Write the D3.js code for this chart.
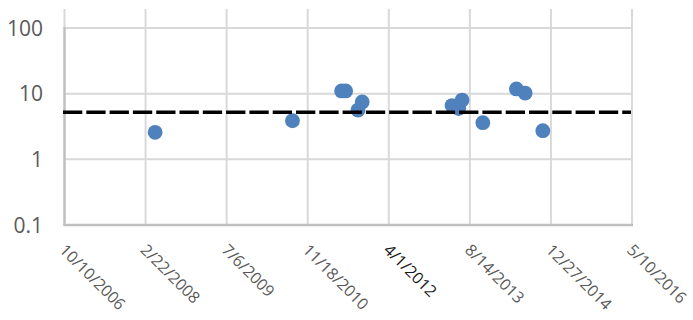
<!DOCTYPE html>
<html>
<head>
<meta charset="utf-8">
<script src="https://cdn.jsdelivr.net/npm/d3@7"></script>
<style>
  html, body { margin: 0; padding: 0; background: #fff; }
  svg { display: block; font-family: "Open Sans", sans-serif; }
</style>
</head>
<body>
<svg id="chart" width="693" height="320"></svg>
<script>
// Sample dates and measured values (log scale)
const sampleDates = [
  "2008-04-21", "2010-08-16", "2011-06-15", "2011-07-10", "2011-09-24",
  "2011-10-20", "2013-04-26", "2013-06-06", "2013-06-27", "2013-11-02",
  "2014-05-28", "2014-07-21", "2014-11-07"
];
const sampleValues = [2.58, 3.87, 11.0, 11.0, 5.63, 7.46, 6.59, 5.94, 8.0, 3.61, 11.8, 10.2, 2.73];

// Reference threshold drawn as a dashed line
const thresholdValue = 5.2;

// Axis ticks
const xTickLabels = ["10/10/2006", "2/22/2008", "7/6/2009", "11/18/2010", "4/1/2012", "8/14/2013", "12/27/2014", "5/10/2016"];
const yTickValues = [0.1, 1, 10, 100];
const yTickLabels = ["0.1", "1", "10", "100"];

const parseISO = d3.timeParse("%Y-%m-%d");
const parseUS = d3.timeParse("%m/%d/%Y");
const xTicks = xTickLabels.map(parseUS);
const points = sampleDates.map((d, i) => ({ date: parseISO(d), value: sampleValues[i] }));

const svg = d3.select("#chart");
const plotLeft = 64.5, plotRight = 632, plotTop = 28, plotBottom = 225, gridTop = 9;

const x = d3.scaleTime().domain([xTicks[0], xTicks[xTicks.length - 1]]).range([plotLeft, plotRight]);
const y = d3.scaleLog().domain([0.1, 100]).range([plotBottom, plotTop]);

// Horizontal gridlines
svg.append("g").selectAll("line").data(yTickValues.slice(1)).join("line")
  .attr("x1", plotLeft).attr("x2", plotRight)
  .attr("y1", d => y(d)).attr("y2", d => y(d))
  .attr("stroke", "#d9d9d9").attr("stroke-width", 2);

// Vertical gridlines
svg.append("g").selectAll("line").data(xTicks.slice(1)).join("line")
  .attr("x1", d => x(d)).attr("x2", d => x(d))
  .attr("y1", gridTop).attr("y2", plotBottom)
  .attr("stroke", "#d9d9d9").attr("stroke-width", 2);
svg.append("line")
  .attr("x1", plotLeft).attr("x2", plotLeft).attr("y1", gridTop).attr("y2", plotTop)
  .attr("stroke", "#d9d9d9").attr("stroke-width", 2);

// Axis lines
svg.append("line")
  .attr("x1", plotLeft).attr("x2", plotLeft).attr("y1", plotTop - 1).attr("y2", plotBottom + 1)
  .attr("stroke", "#bfbfbf").attr("stroke-width", 2.5);
svg.append("line")
  .attr("x1", plotLeft - 1).attr("x2", plotRight + 1).attr("y1", plotBottom).attr("y2", plotBottom)
  .attr("stroke", "#bfbfbf").attr("stroke-width", 2.5);

// Y tick labels
svg.append("g").selectAll("text").data(yTickValues).join("text")
  .attr("x", 43).attr("y", d => y(d))
  .attr("dy", "0.36em")
  .attr("text-anchor", "end")
  .attr("font-size", 21)
  .attr("fill", "#595959")
  .text((d, i) => yTickLabels[i]);

// X tick labels, rotated
svg.append("g").selectAll("text").data(xTicks).join("text")
  .attr("transform", d => `translate(${x(d) - 2},247) rotate(45)`)
  .attr("dy", "0.35em")
  .attr("text-anchor", "start")
  .attr("font-size", 16)
  .attr("fill", (d, i) => xTickLabels[i] === "4/1/2012" ? "#1a1a1a" : "#595959")
  .text((d, i) => xTickLabels[i]);

// Sample markers
svg.append("g").selectAll("circle").data(points).join("circle")
  .attr("cx", d => x(d.date)).attr("cy", d => y(d.value))
  .attr("r", 7.4)
  .attr("fill", "#4f81bd");

// Threshold line
svg.append("line")
  .attr("x1", plotLeft - 1.5).attr("x2", plotRight - 1)
  .attr("y1", y(thresholdValue)).attr("y2", y(thresholdValue))
  .attr("stroke", "#000").attr("stroke-width", 3.5)
  .attr("stroke-dasharray", "19.3,4");
</script>
</body>
</html>
